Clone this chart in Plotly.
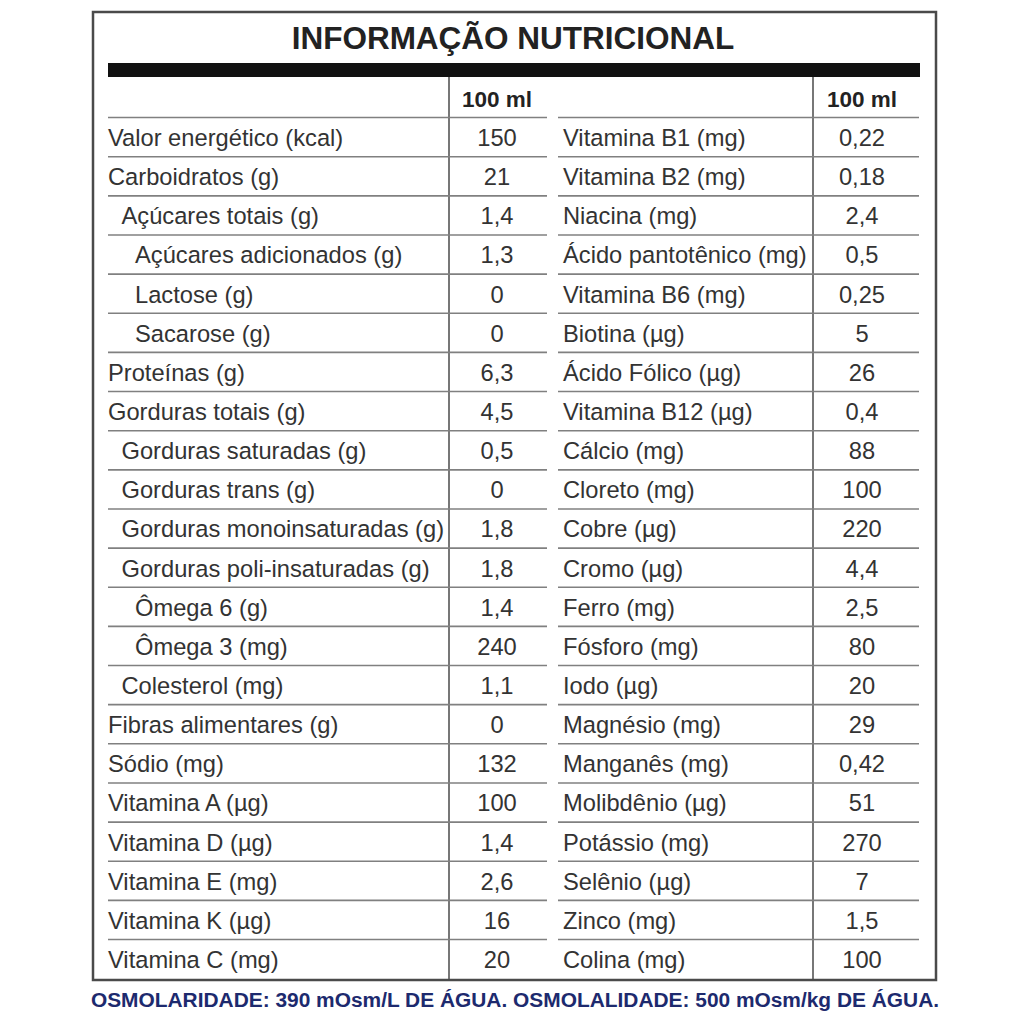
import plotly.graph_objects as go

# ---------------- data ----------------
title = "INFORMAÇÃO NUTRICIONAL"
header_unit = "100 ml"
left_labels = [
    "Valor energético (kcal)", "Carboidratos (g)", "Açúcares totais (g)",
    "Açúcares adicionados (g)", "Lactose (g)", "Sacarose (g)", "Proteínas (g)",
    "Gorduras totais (g)", "Gorduras saturadas (g)", "Gorduras trans (g)",
    "Gorduras monoinsaturadas (g)", "Gorduras poli-insaturadas (g)",
    "Ômega 6 (g)", "Ômega 3 (mg)", "Colesterol (mg)", "Fibras alimentares (g)",
    "Sódio (mg)", "Vitamina A (µg)", "Vitamina D (µg)", "Vitamina E (mg)",
    "Vitamina K (µg)", "Vitamina C (mg)",
]
left_levels = [0, 0, 1, 2, 2, 2, 0, 0, 1, 1, 1, 1, 2, 2, 1, 0, 0, 0, 0, 0, 0, 0]
left_values = ["150", "21", "1,4", "1,3", "0", "0", "6,3", "4,5", "0,5", "0",
               "1,8", "1,8", "1,4", "240", "1,1", "0", "132", "100", "1,4",
               "2,6", "16", "20"]
right_labels = [
    "Vitamina B1 (mg)", "Vitamina B2 (mg)", "Niacina (mg)",
    "Ácido pantotênico (mg)", "Vitamina B6 (mg)", "Biotina (µg)",
    "Ácido Fólico (µg)", "Vitamina B12 (µg)", "Cálcio (mg)", "Cloreto (mg)",
    "Cobre (µg)", "Cromo (µg)", "Ferro (mg)", "Fósforo (mg)", "Iodo (µg)",
    "Magnésio (mg)", "Manganês (mg)", "Molibdênio (µg)", "Potássio (mg)",
    "Selênio (µg)", "Zinco (mg)", "Colina (mg)",
]
right_values = ["0,22", "0,18", "2,4", "0,5", "0,25", "5", "26", "0,4", "88",
                "100", "220", "4,4", "2,5", "80", "20", "29", "0,42", "51",
                "270", "7", "1,5", "100"]
footer = "OSMOLARIDADE: 390 mOsm/L DE ÁGUA. OSMOLALIDADE: 500 mOsm/kg DE ÁGUA."

# ---------------- layout helpers ----------------
ROW0_PX = 98.0      # pixel centre of header row
ROW_PX = 39.14      # pixel height of a row
PAGE = 1024
OFF = 8             # page body margin around the plot div
SIZE = PAGE - 2 * OFF
TXT_SHIFT = 3.0 / ROW_PX   # nudge text down to sit centred in its row


def r(px):
    """convert a page pixel y position to row units"""
    return (px - ROW0_PX) / ROW_PX


n = len(left_labels)
rows = list(range(1, n + 1))
trows = [i + TXT_SHIFT for i in rows]
FONT = "Liberation Sans, Arial, sans-serif"
TXT = "#333333"
LINE = "#808080"
FS = 23.7

fig = go.Figure()

# left labels
fig.add_trace(go.Scatter(
    x=[108 + 13.5 * lv for lv in left_levels], y=trows, text=left_labels,
    mode="text", textposition="middle right",
    textfont=dict(family=FONT, size=FS, color=TXT), hoverinfo="skip"))
# left values
fig.add_trace(go.Scatter(
    x=[497] * n, y=trows, text=left_values, mode="text",
    textposition="middle center",
    textfont=dict(family=FONT, size=FS, color=TXT), hoverinfo="skip"))
# right labels
fig.add_trace(go.Scatter(
    x=[563] * n, y=trows, text=right_labels, mode="text",
    textposition="middle right",
    textfont=dict(family=FONT, size=FS, color=TXT), hoverinfo="skip"))
# right values
fig.add_trace(go.Scatter(
    x=[862] * n, y=trows, text=right_values, mode="text",
    textposition="middle center",
    textfont=dict(family=FONT, size=FS, color=TXT), hoverinfo="skip"))
# header units
fig.add_trace(go.Scatter(
    x=[497, 862], y=[TXT_SHIFT, TXT_SHIFT], text=[header_unit, header_unit],
    mode="text", textposition="middle center",
    textfont=dict(family=FONT, size=22.5, color="#222222", weight="bold"),
    hoverinfo="skip"))
# title
fig.add_trace(go.Scatter(
    x=[513], y=[r(41)], text=[title], mode="text",
    textposition="middle center",
    textfont=dict(family=FONT, size=31.5, color="#222222", weight="bold"),
    hoverinfo="skip"))
# footer
fig.add_trace(go.Scatter(
    x=[515], y=[r(1002)], text=[footer], mode="text",
    textposition="middle center",
    textfont=dict(family=FONT, size=20.9, color="#1d2a6e", weight="bold"),
    hoverinfo="skip"))

shapes = []
# frame
shapes.append(dict(type="rect", x0=93, x1=936, y0=r(12), y1=r(980),
                   line=dict(color="#4a4a4a", width=2.5)))
# black bar
shapes.append(dict(type="rect", x0=108, x1=920, y0=r(63), y1=r(77),
                   fillcolor="#111111", line=dict(width=0)))
# vertical separators
for vx in (449, 813):
    shapes.append(dict(type="line", x0=vx, x1=vx, y0=r(77), y1=r(980),
                       line=dict(color="#4a4a4a", width=1.5)))
# horizontal row separators
for k in range(n):
    yy = k + 0.5
    shapes.append(dict(type="line", x0=108, x1=547, y0=yy, y1=yy,
                       line=dict(color=LINE, width=1.6)))
    shapes.append(dict(type="line", x0=558, x1=919, y0=yy, y1=yy,
                       line=dict(color=LINE, width=1.6)))
for s in shapes:
    s.update(xref="x", yref="y", layer="below")

fig.update_layout(
    width=SIZE, height=SIZE, margin=dict(l=0, r=0, t=0, b=0),
    paper_bgcolor="white", plot_bgcolor="white", showlegend=False,
    shapes=shapes,
    xaxis=dict(range=[OFF, PAGE - OFF], visible=False, fixedrange=True),
    yaxis=dict(range=[r(PAGE - OFF), r(OFF)], visible=False, fixedrange=True),
)
fig.write_html("out.html")
